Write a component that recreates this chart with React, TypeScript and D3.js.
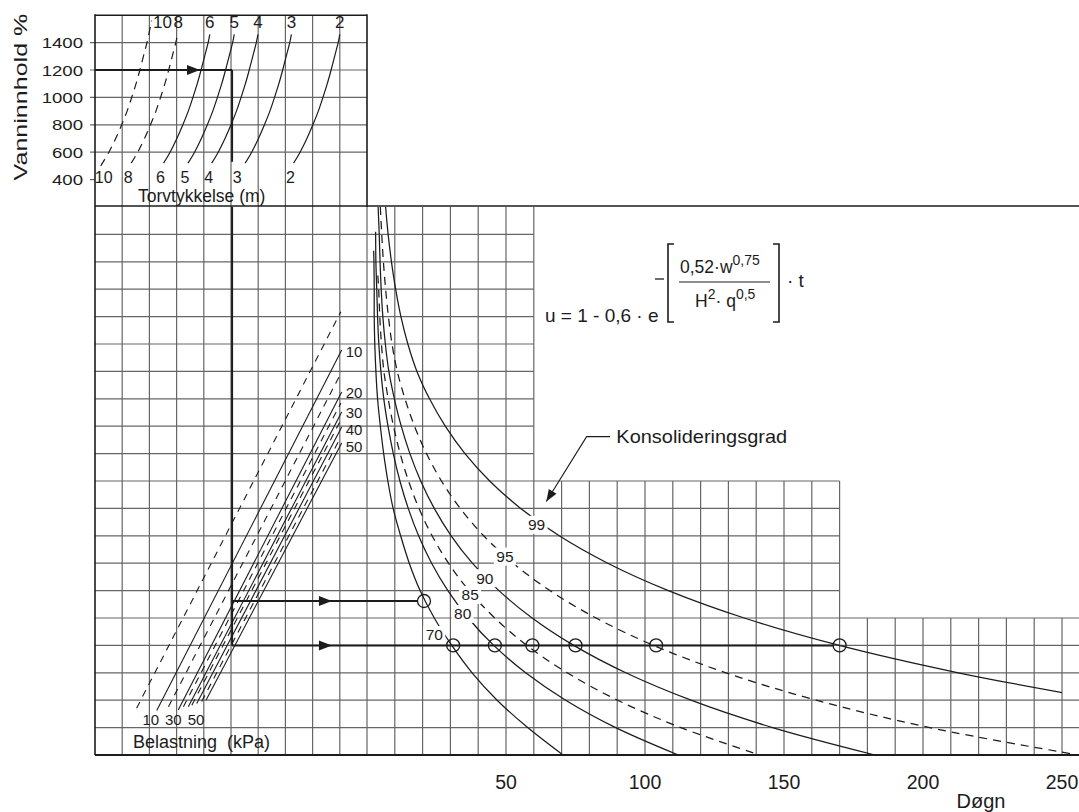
import React from 'react';
import * as d3 from 'd3';

// ---------- data ----------
const W_TICKS = [400, 600, 800, 1000, 1200, 1400];
const W_GRID = [600, 800, 1000, 1200, 1400];
const DAY_TICKS = [50, 100, 150, 200, 250];

// peat thickness curves in top panel: [grid column, water content %]
const THICKNESS_M = [10, 8, 6, 5, 4, 3, 2];
const THICKNESS_DASHED = [10, 8];
const THICKNESS_CURVES: number[][][] = [
  [[0.21, 500], [0.51, 600], [0.76, 700], [0.98, 800], [1.18, 900], [1.35, 1000], [1.51, 1100], [1.65, 1200], [1.78, 1300], [1.91, 1400], [2.08, 1560]],
  [[1.33, 520], [1.57, 600], [1.82, 700], [2.04, 800], [2.24, 900], [2.41, 1000], [2.57, 1100], [2.71, 1200], [2.84, 1300], [2.97, 1400], [3.06, 1480]],
  [[2.52, 520], [2.76, 600], [3.01, 700], [3.23, 800], [3.43, 900], [3.6, 1000], [3.76, 1100], [3.9, 1200], [4.03, 1300], [4.16, 1400], [4.22, 1460]],
  [[3.42, 520], [3.66, 600], [3.91, 700], [4.13, 800], [4.33, 900], [4.5, 1000], [4.66, 1100], [4.8, 1200], [4.93, 1300], [5.06, 1400], [5.12, 1460]],
  [[4.29, 520], [4.53, 600], [4.78, 700], [5.0, 800], [5.2, 900], [5.37, 1000], [5.53, 1100], [5.67, 1200], [5.8, 1300], [5.93, 1400], [5.99, 1460]],
  [[5.52, 520], [5.76, 600], [6.01, 700], [6.23, 800], [6.43, 900], [6.6, 1000], [6.76, 1100], [6.9, 1200], [7.03, 1300], [7.16, 1400], [7.22, 1460]],
  [[7.3, 520], [7.54, 600], [7.79, 700], [8.01, 800], [8.21, 900], [8.38, 1000], [8.54, 1100], [8.68, 1200], [8.81, 1300], [8.94, 1400], [9.0, 1460]],
];

// load lines (Belastning, kPa): endpoints [grid column, grid row]
const LOAD_KPA = [5, 10, 15, 20, 25, 30, 35, 40, 45, 50];
const LOAD_TOP = [[9.04, 3.82], [9.07, 5.22], [9.07, 6.01], [9.07, 6.75], [9.04, 7.15], [9.07, 7.48], [9.04, 7.77], [9.07, 8.03], [9.04, 8.39], [9.07, 8.61]];
const LOAD_BOTTOM = [[1.53, 18.29], [2.27, 18.38], [2.7, 18.24], [3.06, 18.36], [3.25, 18.24], [3.43, 18.24], [3.56, 18.18], [3.74, 18.12], [3.92, 18.05], [4.08, 18.0]];
const LOAD_LABEL_TOP = [10, 20, 30, 40, 50];
const LOAD_LABEL_BOTTOM = [10, 30, 50];

// consolidation degree curves: [days, grid row]
const DEGREE = [70, 80, 85, 90, 95, 99];
const DEGREE_DASHED = [85, 95];
const DEGREE_CURVES: number[][][] = [
  [[2.4, 1.6], [2.5, 2], [2.6, 3], [2.6, 4], [2.8, 5], [3.2, 6], [3.8, 7], [4.8, 8], [6.0, 9], [7.5, 10], [9.4, 11], [12.1, 12], [15.2, 13], [19.1, 14], [24.2, 15], [30.5, 16], [37.8, 17], [46.8, 18], [57.8, 19], [70.5, 20]],
  [[3.1, 0.9], [3.2, 2], [3.5, 3], [3.8, 4], [4.25, 5], [5.0, 6], [6.04, 7], [7.56, 8], [9.46, 9], [11.84, 10], [14.83, 11], [18.56, 12], [23.24, 13], [29.09, 14], [36.42, 15], [45.59, 16], [57.07, 17], [71.45, 18], [89.46, 19], [112.0, 20]],
  [[3.9, 2.5], [4.2, 3], [4.6, 4], [5.2, 5], [6.08, 6], [7.62, 7], [9.53, 8], [11.93, 9], [14.94, 10], [18.71, 11], [23.41, 12], [29.31, 13], [36.7, 14], [45.95, 15], [57.52, 16], [72.0, 17], [90.14, 18], [112.9, 19], [141.3, 20]],
  [[4.0, 0], [4.4, 1], [4.7, 2], [5.1, 3], [5.7, 4], [6.6, 5], [7.86, 6], [9.85, 7], [12.32, 8], [15.43, 9], [19.32, 10], [24.19, 11], [30.27, 12], [37.9, 13], [47.45, 14], [59.4, 15], [74.37, 16], [93.09, 17], [116.55, 18], [145.9, 19], [182.7, 20]],
  [[4.8, 0], [5.3, 1], [5.9, 2], [6.7, 3], [7.7, 4], [9.0, 5], [10.9, 6], [13.66, 7], [17.09, 8], [21.4, 9], [26.79, 10], [33.55, 11], [41.97, 12], [52.56, 13], [65.8, 14], [82.38, 15], [103.1, 16], [129.1, 17], [161.6, 18], [202.4, 19], [256, 20]],
  [[6.7, 0], [7.6, 1], [8.8, 2], [10.3, 3], [12.2, 4], [14.7, 5], [17.96, 6], [22.5, 7], [28.15, 8], [35.25, 9], [44.13, 10], [55.27, 11], [69.15, 12], [86.59, 13], [108.4, 14], [135.7, 15], [169.9, 16], [212.7, 17], [250, 17.72]],
];
const DEGREE_LABEL_AT = [[24.2, 15.62], [34.4, 14.85], [37.1, 14.16], [42.4, 13.55], [49.6, 12.76], [61, 11.6]];

// worked example
const EXAMPLE_W = 1200;
const EXAMPLE_COL = 5.04;
const EXAMPLE_ROWS = [14.38, 16];
const EXAMPLE_HITS = [[20.5], [31, 46, 59.5, 75, 104, 170]];

const FONT = "'Liberation Sans', Arial, Helvetica, sans-serif";
const INK = '#1c1c1c';
const GRID = '#666666';

function T(props: any) {
  const { x, y, size, anchor = 'start', sx = 1, rotate = 0, children } = props;
  const tf = `translate(${x},${y})` + (rotate ? ` rotate(${rotate})` : '') + (sx !== 1 ? ` scale(${sx},1)` : '');
  return (
    <text transform={tf} fontSize={size} textAnchor={anchor} fontFamily={FONT} fill={INK}>
      {children}
    </text>
  );
}

function arrowHead(tx: number, ty: number, fx: number, fy: number, len = 13, half = 5) {
  const dx = tx - fx, dy = ty - fy;
  const L = Math.hypot(dx, dy);
  const ux = dx / L, uy = dy / L;
  const bx = tx - ux * len, by = ty - uy * len;
  const px = -uy * half, py = ux * half;
  return `M${tx},${ty}L${bx + px},${by + py}L${bx - px},${by - py}Z`;
}

export default function App() {
  const RIGHT = 1079;
  const xCol = d3.scaleLinear().domain([0, 10, 35]).range([95, 367, 1062]);
  const xDay = d3.scaleLinear().domain([0, 250]).range([xCol(10), xCol(35)]);
  const yRow = d3.scaleLinear().domain([0, 20]).range([207, 755]);
  const yW = d3.scaleLinear().domain([200, 1600]).range([207, 207 - 7 * 27.4]);

  const topLine = d3.line<number[]>().x(d => xCol(d[0])).y(d => yW(d[1])).curve(d3.curveCatmullRom.alpha(0.5));
  const degLine = d3.line<number[]>().x(d => xDay(d[0])).y(d => yRow(d[1])).curve(d3.curveCatmullRom.alpha(0.5));

  // grid
  const vLines: any[] = [];
  for (let c = 1; c <= 35; c++) {
    let y0: number;
    if (c <= 10) y0 = c === 10 ? yRow(0) : yW(1600);
    else if (c <= 16) y0 = yRow(0);
    else if (c <= 27) y0 = yRow(10);
    else y0 = yRow(15);
    vLines.push(<line key={'v' + c} x1={xCol(c)} x2={xCol(c)} y1={y0} y2={yRow(20)} stroke={GRID} strokeWidth={1.2} />);
  }
  const hLines: any[] = [];
  for (let r = 1; r <= 19; r++) {
    const x1 = r <= 9 ? xCol(16) : r <= 14 ? xCol(27) : RIGHT;
    hLines.push(<line key={'h' + r} x1={xCol(0)} x2={x1} y1={yRow(r)} y2={yRow(r)} stroke={GRID} strokeWidth={1.2} />);
  }
  W_GRID.forEach(w => hLines.push(<line key={'w' + w} x1={90} x2={xCol(10)} y1={yW(w)} y2={yW(w)} stroke={GRID} strokeWidth={1.2} />));
  hLines.push(<line key="w400" x1={90} x2={xCol(0)} y1={yW(400)} y2={yW(400)} stroke={GRID} strokeWidth={1.2} />);

  const lowerY = yRow(EXAMPLE_ROWS[1]);
  const ex = xCol(EXAMPLE_COL);
  const cr = 6.5;

  // leader for Konsolideringsgrad
  const leader = [[87.4, 8.38], [79, 8.38], [64.5, 10.75]].map(d => [xDay(d[0]), yRow(d[1])]);

  // load label y positions (spread to avoid overlap)
  let prevY = -1e9;
  const loadTopLabels = LOAD_LABEL_TOP.map(q => {
    const i = LOAD_KPA.indexOf(q);
    let y = yRow(LOAD_TOP[i][1]) + 1.5;
    if (y < prevY + 17) y = prevY + 17;
    prevY = y;
    return { q, x: xCol(LOAD_TOP[i][0]) + 4, y };
  });
  const bottomShift: Record<number, number> = { 10: -6, 30: -15, 50: -10 };
  const thickBottomShift: Record<number, number> = { 10: 6, 3: -5 };

  return (
    <svg width={1079} height={812} style={{ position: 'absolute', left: 0, top: 0, background: '#fff' }}>
      <rect width={1079} height={812} fill="#fff" />
      {vLines}
      {hLines}
      {/* borders */}
      <line x1={xCol(0)} x2={xCol(0)} y1={yW(1600) - 1} y2={yRow(20)} stroke={INK} strokeWidth={1.6} />
      <line x1={xCol(10)} x2={xCol(10)} y1={yW(1600) - 1} y2={yRow(0)} stroke={INK} strokeWidth={1.6} />
      <line x1={xCol(0)} x2={xCol(10)} y1={yW(1600)} y2={yW(1600)} stroke={INK} strokeWidth={1.6} />
      <line x1={xCol(0)} x2={RIGHT} y1={yRow(0) - 1} y2={yRow(0) - 1} stroke={INK} strokeWidth={1.6} />
      <line x1={xCol(0)} x2={RIGHT} y1={yRow(20)} y2={yRow(20)} stroke={INK} strokeWidth={1.8} />

      {/* top panel curves */}
      {THICKNESS_CURVES.map((pts, i) => (
        <path key={'th' + i} d={topLine(pts) || ''} fill="none" stroke={INK} strokeWidth={1.2}
          strokeDasharray={THICKNESS_DASHED.includes(THICKNESS_M[i]) ? '8 6' : undefined} />
      ))}
      {THICKNESS_CURVES.map((pts, i) => {
        const top = pts[pts.length - 1];
        const bot = pts[0];
        const h = THICKNESS_M[i];
        return (
          <g key={'thl' + i}>
            <T x={xCol(top[0]) + (h === 10 ? 11 : 0)} y={28} size={17} anchor="middle">{h}</T>
            <T x={xCol(bot[0]) - 3 + (thickBottomShift[h] || 0)} y={182.5} size={16} anchor="middle">{h}</T>
          </g>
        );
      })}

      {/* load lines */}
      {LOAD_KPA.map((q, i) => (
        <line key={'q' + q} x1={xCol(LOAD_BOTTOM[i][0])} y1={yRow(LOAD_BOTTOM[i][1])} x2={xCol(LOAD_TOP[i][0])} y2={yRow(LOAD_TOP[i][1])}
          stroke={INK} strokeWidth={1.1} strokeDasharray={q % 10 === 5 ? '7 6' : undefined} />
      ))}
      {loadTopLabels.map(l => (
        <T key={'ql' + l.q} x={l.x} y={l.y + 5} size={15}>{l.q}</T>
      ))}
      {LOAD_LABEL_BOTTOM.map(q => {
        const i = LOAD_KPA.indexOf(q);
        return <T key={'qb' + q} x={xCol(LOAD_BOTTOM[i][0]) + bottomShift[q]} y={725} size={15} anchor="middle">{q}</T>;
      })}

      {/* consolidation curves */}
      {DEGREE_CURVES.map((pts, i) => (
        <path key={'u' + i} d={degLine(pts) || ''} fill="none" stroke={INK} strokeWidth={1.25}
          strokeDasharray={DEGREE_DASHED.includes(DEGREE[i]) ? '8 6' : undefined} />
      ))}
      {DEGREE.map((u, i) => {
        const [d, r] = DEGREE_LABEL_AT[i];
        const x = xDay(d), y = yRow(r);
        return (
          <g key={'ul' + u}>
            <rect x={x - 11} y={y - 9} width={22} height={18} fill="#fff" />
            <T x={x} y={y + 5.5} size={15.5} anchor="middle">{u}</T>
          </g>
        );
      })}

      {/* worked example */}
      <line x1={xCol(0)} x2={ex} y1={yW(EXAMPLE_W)} y2={yW(EXAMPLE_W)} stroke={INK} strokeWidth={2} />
      <path d={arrowHead(xCol(3.86), yW(EXAMPLE_W), 0, yW(EXAMPLE_W))} fill={INK} />
      <line x1={ex} x2={ex} y1={yW(EXAMPLE_W)} y2={yW(530)} stroke={INK} strokeWidth={2} />
      <line x1={ex} x2={ex} y1={yRow(0)} y2={lowerY} stroke={INK} strokeWidth={2} />
      {EXAMPLE_ROWS.map((r, k) => {
        const y = yRow(r);
        const hits = EXAMPLE_HITS[k];
        const last = xDay(hits[hits.length - 1]);
        return (
          <g key={'ex' + k}>
            <line x1={ex} x2={last - cr} y1={y} y2={y} stroke={INK} strokeWidth={2} />
            <path d={arrowHead(xCol(8.71), y, 0, y)} fill={INK} />
            {hits.map(h => (
              <circle key={h} cx={xDay(h)} cy={y} r={cr} fill="none" stroke={INK} strokeWidth={1.3} />
            ))}
          </g>
        );
      })}

      {/* Konsolideringsgrad leader */}
      <polyline points={leader.map(p => p.join(',')).join(' ')} fill="none" stroke={INK} strokeWidth={1.1} />
      <path d={arrowHead(leader[2][0], leader[2][1], leader[1][0], leader[1][1], 12, 4.5)} fill={INK} />
      <T x={xDay(89.7)} y={yRow(8.6)} size={19} sx={1.05}>Konsolideringsgrad</T>

      {/* formula */}
      <T x={545} y={322} size={19}>u = 1 - 0,6 · e</T>
      <line x1={655} x2={664} y1={279} y2={279} stroke={INK} strokeWidth={1.3} />
      <path d="M674,244 L668,244 L668,322 L674,322" fill="none" stroke={INK} strokeWidth={1.6} />
      <path d="M773,244 L779,244 L779,322 L773,322" fill="none" stroke={INK} strokeWidth={1.6} />
      <text x={680} y={273} fontSize={17.5} fontFamily={FONT} fill={INK}>
        0,52·w<tspan dy={-8} fontSize={14}>0,75</tspan>
      </text>
      <line x1={679} x2={770} y1={282} y2={282} stroke={INK} strokeWidth={1.2} />
      <text x={695} y={307} fontSize={17.5} fontFamily={FONT} fill={INK}>
        H<tspan dy={-8} fontSize={14}>2</tspan><tspan dy={8}>· q</tspan><tspan dy={-8} fontSize={14}>0,5</tspan>
      </text>
      <T x={787} y={287} size={19}>· t</T>

      {/* axis labels */}
      {W_TICKS.map(w => (
        <T key={'wt' + w} x={83} y={yW(w) + 5.5} size={15.5} anchor="end" sx={1.2}>{w}</T>
      ))}
      <T x={26.5} y={97} size={19} anchor="middle" rotate={-90} sx={1.32}>Vanninnhold %</T>
      <T x={138} y={202} size={17.5}>Torvtykkelse (m)</T>
      <T x={133} y={748} size={18}>Belastning&#160;&#160;(kPa)</T>
      {DAY_TICKS.map(d => (
        <T key={'dt' + d} x={xDay(d)} y={789} size={19.5} anchor="middle">{d}</T>
      ))}
      <T x={981} y={808} size={20} anchor="middle">Døgn</T>
    </svg>
  );
}
